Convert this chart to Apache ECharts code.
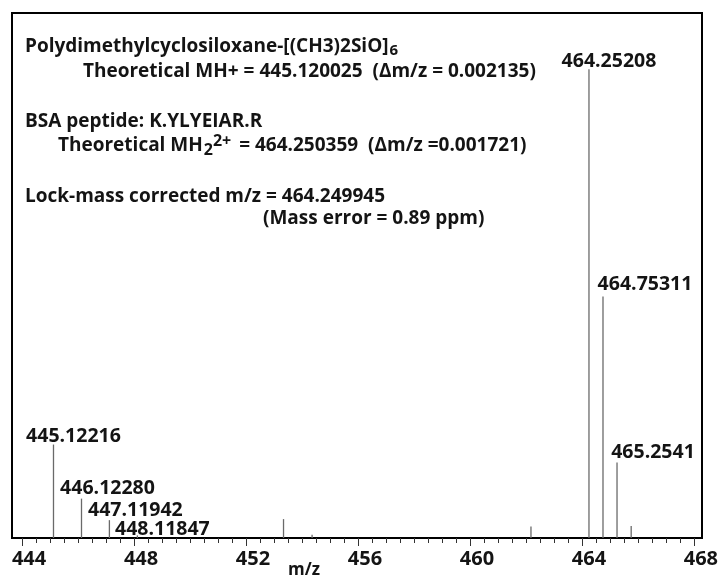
<!DOCTYPE html>
<html>
<head>
<meta charset="utf-8">
<title>Lock-mass corrected spectrum</title>
<script src="https://cdn.jsdelivr.net/npm/echarts@6/dist/echarts.min.js"></script>
<style>
  html, body { margin: 0; padding: 0; background: #fff; }
  #chart { width: 721px; height: 576px; }
</style>
</head>
<body>
<div id="chart"></div>
<script>
// Labelled centroid peaks: m/z as printed, relative intensity (% of full scale)
const peakLabels = ['445.12216', '446.12280', '447.11942', '448.11847', '464.25208', '464.75311', '465.2541'];
const peakIntensity = [17.8, 7.5, 3.4, 0.5, 89.3, 46.0, 14.4];

// Unlabelled minor peaks
const minorMz = [453.34, 454.36, 462.18, 465.76];
const minorIntensity = [3.6, 0.6, 2.2, 2.3];

// x-axis ticks
const tickLabels = [444, 448, 452, 456, 460, 464, 468];
const xRange = [443.64, 468.29];

// where each peak label sits relative to its stick (px, right / down)
const labelNudge = [[20, 2], [26, 0], [26, 0], [25, 4], [20, 2], [42, -2], [36, 0]];

const FONT = '"Open Sans", "Liberation Sans", sans-serif';
const INK = '#141414';
const TXT = 'bold 19px ' + FONT;

const minorTicks = [];
for (let v = tickLabels[0]; v <= tickLabels[tickLabels.length - 1] + 1e-9; v += 0.5) minorTicks.push(v);

const peakData = peakLabels.map((lbl, i) => ({
  value: [Number(lbl), peakIntensity[i]],
  label: { show: true, formatter: lbl, offset: labelNudge[i] }
})).concat(minorMz.map((mz, i) => ({ value: [mz, minorIntensity[i]], label: { show: false } })));

const chart = echarts.init(document.getElementById('chart'), null, { renderer: 'canvas' });

chart.setOption({
  animation: false,
  backgroundColor: '#fff',
  grid: {
    left: 12, right: 19, top: 13, bottom: 38,
    outerBoundsMode: 'none', containLabel: false,
    show: true, borderColor: '#000', borderWidth: 2, backgroundColor: 'transparent'
  },
  xAxis: [{
    type: 'value', min: xRange[0], max: xRange[1], position: 'bottom',
    name: 'm/z', nameLocation: 'middle', nameGap: 24, nameMoveOverlap: false,
    nameTextStyle: { fontFamily: FONT, fontWeight: 'bold', fontSize: 17, color: INK, padding: [0, 106, 0, 0] },
    axisLine: { show: true, onZero: false, lineStyle: { color: '#000', width: 2 } },
    axisTick: { show: true, inside: false, length: 5, customValues: minorTicks, lineStyle: { color: '#333', width: 1 } },
    axisLabel: {
      show: true, customValues: tickLabels, margin: 11,
      fontFamily: FONT, fontWeight: 'bold', fontSize: 20, color: INK, padding: [0, 0, 0, 14]
    },
    splitLine: { show: false }
  }, {
    type: 'value', min: xRange[0], max: xRange[1], position: 'bottom',
    axisLine: { show: false, onZero: false },
    axisTick: { show: true, length: 8, customValues: tickLabels, lineStyle: { color: '#333', width: 1 } },
    axisLabel: { show: false },
    splitLine: { show: false }
  }],
  yAxis: { type: 'value', min: 0, max: 100, show: false, splitLine: { show: false } },
  series: [{
    type: 'bar',
    xAxisIndex: 0,
    barWidth: 1.3,
    itemStyle: { color: '#6a6a6a' },
    label: {
      position: 'top', distance: 0,
      fontFamily: FONT, fontWeight: 'bold', fontSize: 19.5, color: INK
    },
    data: peakData
  }],
  graphic: [{
    type: 'group',
    children: [
      {
        type: 'text', left: 25, top: 37,
        style: {
          text: '{b|Polydimethylcyclosiloxane-[(CH3)2SiO]}{sub|6}',
          rich: {
            b: { fontFamily: FONT, fontWeight: 'bold', fontSize: 19, fill: INK },
            sub: { fontFamily: FONT, fontWeight: 'bold', fontSize: 15, fill: INK, padding: [9, 0, 0, 1] }
          }
        }
      },
      {
        type: 'text', left: 83, top: 62,
        style: { text: 'Theoretical MH+ = 445.120025  (Δm/z = 0.002135)', font: TXT, fill: INK }
      },
      {
        type: 'text', left: 25, top: 112,
        style: { text: 'BSA peptide: K.YLYEIAR.R', font: TXT, fill: INK }
      },
      {
        type: 'text', left: 58, top: 133,
        style: {
          text: '{b|Theoretical MH}{sub|2}{sup|2+}{rest| = 464.250359  (Δm/z =0.001721)}',
          rich: {
            b: { fontFamily: FONT, fontWeight: 'bold', fontSize: 19, fill: INK },
            sub: { fontFamily: FONT, fontWeight: 'bold', fontSize: 16, fill: INK, padding: [9, 0, 0, 1] },
            sup: { fontFamily: FONT, fontWeight: 'bold', fontSize: 16, fill: INK, padding: [0, 0, 10, 0] },
            rest: { fontFamily: FONT, fontWeight: 'bold', fontSize: 19, fill: INK, padding: [0, 0, 0, 3] }
          }
        }
      },
      {
        type: 'text', left: 25, top: 187,
        style: { text: 'Lock-mass corrected m/z = 464.249945', font: TXT, fill: INK }
      },
      {
        type: 'text', left: 263, top: 209,
        style: { text: '(Mass error = 0.89 ppm)', font: TXT, fill: INK }
      }
    ]
  }]
});
</script>
</body>
</html>
